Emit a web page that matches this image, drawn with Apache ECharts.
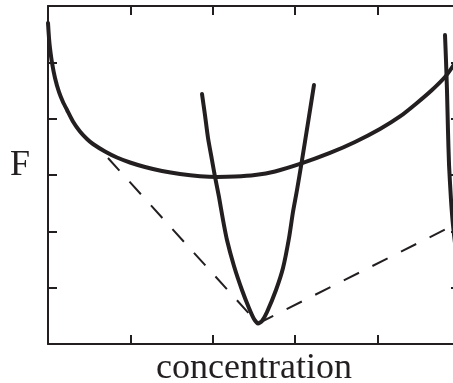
<!DOCTYPE html>
<html>
<head>
<meta charset="utf-8">
<script src="https://cdn.jsdelivr.net/npm/echarts@6/dist/echarts.min.js"></script>
<style>
  html, body { margin: 0; padding: 0; background: #fff; }
  #chart { width: 453px; height: 383px; }
</style>
</head>
<body>
<div id="chart"></div>
<script>
// Free energy of the broad phase (wide U-shaped curve)
const broadConc = [0.000, 0.012, 0.024, 0.049, 0.085, 0.133, 0.182, 0.231, 0.303, 0.388, 0.473, 0.546, 0.692, 0.837, 0.995, 1.177, 1.383, 1.602, 1.845, 2.051, 2.269, 2.512, 2.755, 3.058, 3.422, 3.726, 4.029, 4.272, 4.478, 4.660, 4.818, 4.915, 5.000];
const broadF    = [5.699, 5.433, 5.255, 4.989, 4.722, 4.474, 4.296, 4.154, 3.950, 3.772, 3.639, 3.550, 3.417, 3.310, 3.222, 3.142, 3.071, 3.018, 2.979, 2.965, 2.972, 3.000, 3.063, 3.196, 3.391, 3.586, 3.817, 4.039, 4.279, 4.509, 4.740, 4.935, 5.148];

// Free energy of the ordered phase (narrow well)
const wellConc = [1.869, 1.905, 1.942, 1.990, 2.027, 2.075, 2.124, 2.172, 2.257, 2.354, 2.439, 2.500, 2.549, 2.597, 2.658, 2.767, 2.852, 2.925, 2.973, 3.022, 3.083, 3.155, 3.228];
const wellF    = [4.438, 4.065, 3.657, 3.266, 2.965, 2.610, 2.201, 1.846, 1.385, 0.959, 0.639, 0.444, 0.364, 0.408, 0.568, 0.959, 1.349, 1.882, 2.343, 2.734, 3.266, 3.923, 4.598];

// Steep branch of the phase at the right edge
const edgeConc = [4.818, 4.830, 4.842, 4.854, 4.867, 4.891, 4.915, 4.951, 5.000];
const edgeF    = [5.486, 5.042, 4.509, 3.799, 3.178, 2.556, 2.113, 1.669, 1.314];

// Common-tangent constructions
const tangentLeftConc  = [0.728, 2.549];
const tangentLeftF     = [3.302, 0.364];
const tangentRightConc = [2.549, 5.000];
const tangentRightF    = [0.364, 2.166];

const xTicks = [0, 1, 2, 3, 4, 5];
const yTicks = [0, 1, 2, 3, 4, 5, 6];

const ink = '#231f20';
const zip = (xs, ys) => xs.map((x, i) => [x, ys[i]]);

const axisCommon = {
  type: 'value',
  axisLine: { show: true, onZero: false, lineStyle: { color: ink, width: 2 } },
  axisTick: { show: true, inside: true, length: 9, lineStyle: { color: ink, width: 2 } },
  axisLabel: { show: false },
  splitLine: { show: false }
};

const xAxisBase = Object.assign({}, axisCommon, {
  min: xTicks[0], max: xTicks[xTicks.length - 1], interval: 1
});
const yAxisBase = Object.assign({}, axisCommon, {
  min: yTicks[0], max: yTicks[yTicks.length - 1], interval: 1
});

const chart = echarts.init(document.getElementById('chart'), null, { renderer: 'canvas' });

const curveStyle = { color: ink, width: 4, cap: 'round', join: 'round' };
const dashStyle = { color: ink, width: 2, type: [17, 15], cap: 'butt' };

chart.setOption({
  animation: false,
  backgroundColor: '#ffffff',
  grid: { left: 48, top: 6, width: 412, height: 338, containLabel: false, outerBoundsMode: 'none' },
  xAxis: [
    Object.assign({}, xAxisBase, { position: 'bottom' }),
    Object.assign({}, xAxisBase, { position: 'top' })
  ],
  yAxis: [
    Object.assign({}, yAxisBase, { position: 'left' }),
    Object.assign({}, yAxisBase, { position: 'right' })
  ],
  graphic: [
    {
      type: 'text', left: 10, top: 148,
      style: { text: 'F', fontFamily: 'Liberation Serif', fontSize: 36, fill: ink }
    },
    {
      type: 'text', left: 156, top: 351,
      style: { text: 'concentration', fontFamily: 'Liberation Serif', fontSize: 36, fill: ink }
    }
  ],
  series: [
    {
      type: 'line', data: zip(tangentLeftConc, tangentLeftF), symbol: 'none',
      lineStyle: dashStyle, z: 1
    },
    {
      type: 'line', data: zip(tangentRightConc, tangentRightF), symbol: 'none',
      lineStyle: dashStyle, z: 1
    },
    {
      type: 'line', data: zip(broadConc, broadF), symbol: 'none', smooth: 0.2,
      lineStyle: curveStyle, z: 2
    },
    {
      type: 'line', data: zip(wellConc, wellF), symbol: 'none', smooth: 0.2,
      lineStyle: curveStyle, z: 2
    },
    {
      type: 'line', data: zip(edgeConc, edgeF), symbol: 'none', smooth: 0.2,
      lineStyle: curveStyle, z: 2
    }
  ]
});
</script>
</body>
</html>
